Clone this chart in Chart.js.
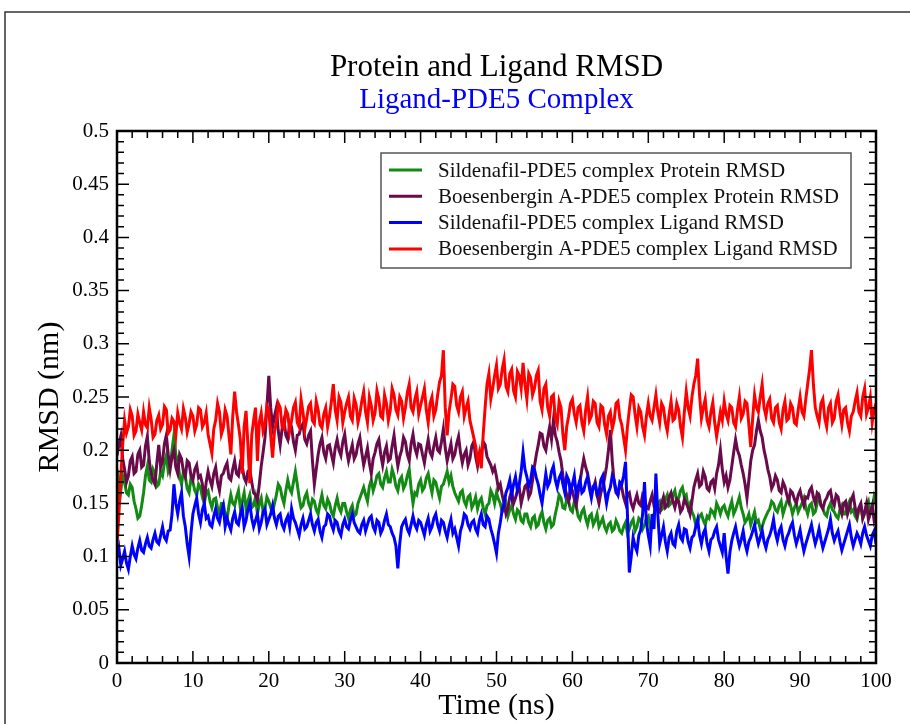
<!DOCTYPE html>
<html>
<head>
<meta charset="utf-8">
<title>Protein and Ligand RMSD</title>
<script src="https://cdn.jsdelivr.net/npm/chart.js@4.4.1/dist/chart.umd.min.js"></script>
<style>
  html, body { margin: 0; padding: 0; background: #fff; }
  canvas { display: block; }
</style>
</head>
<body>
<canvas id="rmsd" width="910" height="724"></canvas>
<script>
// values, one every 0.25 ns from 0 to 100 ns (one row = 10 ns)
const sildenafilProtein = [
  0.150,0.172, 0.162,0.176, 0.170,0.160, 0.158,0.168, 0.165,0.152, 0.145,0.136, 0.138,0.148, 0.160,0.176, 0.185,0.172, 0.170,0.182, 0.178,0.166, 0.168,0.180, 0.176,0.188, 0.195,0.180, 0.185,0.200, 0.214,0.196, 0.190,0.176, 0.168,0.180, 0.175,0.164, 0.160,0.174,
  0.170,0.162, 0.158,0.168, 0.165,0.156, 0.150,0.160, 0.162,0.152, 0.146,0.154, 0.155,0.146, 0.140,0.150, 0.150,0.140, 0.135,0.148, 0.158,0.150, 0.148,0.156, 0.162,0.146, 0.152,0.160, 0.145,0.152, 0.158,0.146, 0.148,0.156, 0.140,0.150, 0.155,0.142, 0.146,0.156,
  0.152,0.146, 0.142,0.150, 0.158,0.168, 0.165,0.156, 0.150,0.162, 0.172,0.164, 0.160,0.170, 0.180,0.168, 0.155,0.146, 0.148,0.156, 0.160,0.150, 0.145,0.154, 0.152,0.144, 0.140,0.150, 0.158,0.148, 0.145,0.154, 0.150,0.142, 0.138,0.148, 0.155,0.146, 0.142,0.150,
  0.150,0.142, 0.136,0.144, 0.148,0.138, 0.140,0.150, 0.155,0.160, 0.165,0.158, 0.152,0.166, 0.172,0.162, 0.168,0.176, 0.178,0.168, 0.165,0.174, 0.180,0.170, 0.170,0.182, 0.176,0.166, 0.162,0.172, 0.175,0.164, 0.168,0.176, 0.182,0.164, 0.150,0.160, 0.158,0.168,
  0.172,0.162, 0.165,0.174, 0.178,0.168, 0.160,0.172, 0.170,0.162, 0.155,0.166, 0.168,0.174, 0.180,0.170, 0.176,0.166, 0.160,0.156, 0.152,0.160, 0.162,0.152, 0.148,0.156, 0.158,0.146, 0.150,0.156, 0.145,0.152, 0.155,0.146, 0.140,0.148, 0.150,0.162, 0.158,0.150,
  0.160,0.154, 0.150,0.142, 0.145,0.150, 0.138,0.144, 0.148,0.140, 0.135,0.144, 0.142,0.134, 0.132,0.140, 0.140,0.132, 0.128,0.136, 0.138,0.128, 0.130,0.138, 0.142,0.132, 0.126,0.134, 0.136,0.128, 0.130,0.140, 0.148,0.158, 0.155,0.146, 0.145,0.154, 0.152,0.144,
  0.142,0.152, 0.148,0.138, 0.135,0.142, 0.145,0.136, 0.130,0.138, 0.140,0.130, 0.134,0.140, 0.128,0.132, 0.136,0.128, 0.124,0.130, 0.132,0.124, 0.126,0.134, 0.130,0.124, 0.122,0.128, 0.132,0.122, 0.126,0.132, 0.135,0.124, 0.128,0.136, 0.134,0.126, 0.130,0.136,
  0.138,0.128, 0.132,0.140, 0.145,0.150, 0.152,0.144, 0.146,0.154, 0.158,0.148, 0.150,0.158, 0.162,0.152, 0.155,0.162, 0.165,0.156, 0.158,0.146, 0.150,0.142, 0.138,0.130, 0.132,0.138, 0.140,0.134, 0.130,0.138, 0.136,0.144, 0.142,0.138, 0.150,0.146, 0.140,0.146,
  0.148,0.142, 0.138,0.146, 0.152,0.140, 0.144,0.150, 0.156,0.146, 0.140,0.132, 0.135,0.140, 0.130,0.136, 0.142,0.132, 0.134,0.126, 0.128,0.134, 0.138,0.142, 0.145,0.152, 0.150,0.144, 0.142,0.148, 0.152,0.140, 0.146,0.152, 0.155,0.148, 0.140,0.146, 0.150,0.142,
  0.146,0.150, 0.155,0.146, 0.140,0.148, 0.150,0.140, 0.142,0.150, 0.156,0.148, 0.145,0.140, 0.138,0.146, 0.150,0.144, 0.142,0.138, 0.136,0.144, 0.148,0.140, 0.140,0.148, 0.152,0.142, 0.144,0.138, 0.135,0.144, 0.148,0.136, 0.140,0.148, 0.152,0.140, 0.145,0.156,
  0.150
];
const boesenberginProtein = [
  0.195,0.205, 0.213,0.192, 0.182,0.170, 0.176,0.190, 0.194,0.178, 0.180,0.196, 0.200,0.184, 0.186,0.204, 0.213,0.190, 0.178,0.172, 0.168,0.188, 0.205,0.184, 0.190,0.206, 0.214,0.196, 0.182,0.194, 0.200,0.184, 0.178,0.196, 0.192,0.180, 0.175,0.190, 0.188,0.176,
  0.172,0.182, 0.186,0.174, 0.176,0.168, 0.153,0.170, 0.180,0.172, 0.166,0.178, 0.184,0.170, 0.162,0.176, 0.178,0.184, 0.188,0.174, 0.172,0.182, 0.190,0.178, 0.176,0.188, 0.185,0.174, 0.170,0.180, 0.182,0.170, 0.160,0.158, 0.153,0.168, 0.185,0.198, 0.212,0.240,
  0.270,0.240, 0.222,0.232, 0.240,0.218, 0.205,0.220, 0.228,0.214, 0.210,0.226, 0.222,0.208, 0.200,0.214, 0.215,0.222, 0.225,0.210, 0.206,0.214, 0.218,0.190, 0.168,0.182, 0.196,0.206, 0.212,0.198, 0.192,0.204, 0.205,0.196, 0.188,0.202, 0.210,0.200, 0.195,0.208,
  0.215,0.200, 0.190,0.198, 0.205,0.192, 0.196,0.206, 0.212,0.198, 0.186,0.194, 0.202,0.188, 0.178,0.192, 0.198,0.206, 0.210,0.196, 0.186,0.198, 0.204,0.190, 0.192,0.204, 0.214,0.198, 0.185,0.194, 0.200,0.212, 0.208,0.196, 0.190,0.206, 0.215,0.202, 0.196,0.206,
  0.205,0.196, 0.188,0.200, 0.210,0.198, 0.194,0.204, 0.212,0.200, 0.198,0.208, 0.220,0.202, 0.190,0.198, 0.206,0.192, 0.196,0.206, 0.213,0.198, 0.188,0.196, 0.200,0.186, 0.192,0.204, 0.208,0.194, 0.185,0.196, 0.198,0.208, 0.205,0.194, 0.190,0.186, 0.180,0.184,
  0.175,0.164, 0.168,0.158, 0.150,0.140, 0.145,0.156, 0.162,0.150, 0.155,0.162, 0.165,0.150, 0.158,0.166, 0.168,0.156, 0.160,0.172, 0.185,0.196, 0.205,0.216, 0.215,0.204, 0.200,0.212, 0.222,0.210, 0.228,0.214, 0.208,0.198, 0.190,0.176, 0.165,0.158, 0.152,0.166,
  0.162,0.154, 0.148,0.160, 0.170,0.182, 0.192,0.184, 0.178,0.168, 0.160,0.164, 0.170,0.158, 0.150,0.160, 0.165,0.174, 0.185,0.200, 0.219,0.190, 0.170,0.160, 0.158,0.168, 0.165,0.156, 0.150,0.158, 0.160,0.150, 0.145,0.152, 0.158,0.150, 0.148,0.158, 0.155,0.146,
  0.145,0.152, 0.158,0.148, 0.150,0.144, 0.142,0.150, 0.156,0.146, 0.148,0.156, 0.160,0.152, 0.146,0.154, 0.152,0.142, 0.145,0.154, 0.150,0.146, 0.140,0.152, 0.165,0.172, 0.178,0.166, 0.168,0.180, 0.175,0.164, 0.162,0.170, 0.172,0.164, 0.178,0.186, 0.200,0.182,
  0.170,0.176, 0.165,0.172, 0.185,0.198, 0.210,0.200, 0.195,0.186, 0.178,0.168, 0.155,0.172, 0.190,0.200, 0.205,0.218, 0.228,0.218, 0.212,0.200, 0.192,0.182, 0.175,0.164, 0.168,0.176, 0.172,0.162, 0.160,0.170, 0.166,0.158, 0.152,0.162, 0.160,0.154, 0.150,0.158,
  0.162,0.154, 0.148,0.156, 0.155,0.162, 0.165,0.156, 0.150,0.160, 0.158,0.148, 0.145,0.152, 0.155,0.160, 0.162,0.152, 0.148,0.158, 0.156,0.146, 0.140,0.150, 0.152,0.140, 0.146,0.154, 0.158,0.146, 0.138,0.146, 0.150,0.136, 0.142,0.150, 0.135,0.142, 0.148,0.134,
  0.140
];
const sildenafilLigand = [
  0.100,0.108, 0.092,0.098, 0.105,0.094, 0.088,0.100, 0.110,0.102, 0.098,0.108, 0.115,0.106, 0.104,0.112, 0.118,0.110, 0.108,0.116, 0.122,0.114, 0.112,0.120, 0.128,0.118, 0.115,0.124, 0.125,0.140, 0.168,0.150, 0.140,0.152, 0.160,0.138, 0.128,0.112, 0.100,0.122,
  0.140,0.148, 0.155,0.140, 0.132,0.144, 0.150,0.136, 0.138,0.130, 0.128,0.138, 0.145,0.136, 0.132,0.142, 0.148,0.128, 0.136,0.130, 0.125,0.136, 0.142,0.132, 0.130,0.140, 0.146,0.128, 0.134,0.144, 0.150,0.136, 0.128,0.134, 0.140,0.126, 0.132,0.142, 0.145,0.130,
  0.135,0.140, 0.148,0.136, 0.130,0.138, 0.140,0.130, 0.126,0.134, 0.138,0.128, 0.145,0.136, 0.132,0.126, 0.120,0.130, 0.136,0.126, 0.128,0.134, 0.140,0.130, 0.124,0.132, 0.135,0.124, 0.118,0.128, 0.130,0.140, 0.138,0.130, 0.125,0.134, 0.132,0.124, 0.120,0.130,
  0.135,0.128, 0.126,0.134, 0.140,0.132, 0.128,0.124, 0.122,0.130, 0.134,0.124, 0.130,0.136, 0.138,0.128, 0.124,0.134, 0.132,0.122, 0.126,0.134, 0.140,0.130, 0.128,0.122, 0.118,0.110, 0.089,0.112, 0.128,0.132, 0.135,0.126, 0.122,0.130, 0.138,0.130, 0.126,0.134,
  0.132,0.126, 0.120,0.130, 0.136,0.124, 0.128,0.136, 0.140,0.130, 0.124,0.134, 0.132,0.124, 0.118,0.128, 0.135,0.122, 0.126,0.118, 0.110,0.124, 0.130,0.140, 0.138,0.130, 0.126,0.132, 0.134,0.126, 0.122,0.134, 0.140,0.130, 0.128,0.138, 0.135,0.126, 0.120,0.112,
  0.103,0.122, 0.132,0.144, 0.150,0.160, 0.165,0.172, 0.158,0.168, 0.175,0.162, 0.168,0.180, 0.198,0.182, 0.175,0.166, 0.172,0.184, 0.182,0.174, 0.168,0.158, 0.150,0.164, 0.178,0.166, 0.170,0.180, 0.185,0.172, 0.165,0.174, 0.178,0.168, 0.160,0.176, 0.172,0.160,
  0.168,0.176, 0.158,0.166, 0.172,0.160, 0.162,0.170, 0.175,0.164, 0.155,0.166, 0.168,0.158, 0.160,0.172, 0.176,0.162, 0.150,0.160, 0.165,0.176, 0.172,0.162, 0.158,0.170, 0.168,0.176, 0.189,0.140, 0.085,0.100, 0.118,0.110, 0.105,0.120, 0.125,0.140, 0.170,0.132,
  0.120,0.110, 0.140,0.126, 0.178,0.140, 0.112,0.120, 0.128,0.114, 0.105,0.118, 0.122,0.112, 0.110,0.124, 0.130,0.118, 0.115,0.126, 0.125,0.114, 0.108,0.118, 0.120,0.128, 0.135,0.120, 0.112,0.122, 0.126,0.112, 0.105,0.116, 0.118,0.124, 0.128,0.116, 0.110,0.104,
  0.122,0.100, 0.084,0.104, 0.115,0.122, 0.128,0.118, 0.110,0.116, 0.124,0.112, 0.105,0.114, 0.118,0.124, 0.130,0.120, 0.112,0.118, 0.125,0.114, 0.108,0.116, 0.120,0.126, 0.135,0.122, 0.115,0.124, 0.128,0.116, 0.110,0.118, 0.122,0.128, 0.132,0.120, 0.112,0.118,
  0.125,0.114, 0.105,0.112, 0.118,0.124, 0.130,0.120, 0.112,0.118, 0.126,0.116, 0.108,0.114, 0.120,0.126, 0.135,0.122, 0.115,0.120, 0.124,0.114, 0.106,0.112, 0.118,0.124, 0.130,0.118, 0.110,0.116, 0.122,0.118, 0.112,0.122, 0.128,0.120, 0.115,0.110, 0.120,0.124,
  0.112
];
const boesenberginLigand = [
  0.110,0.140, 0.175,0.205, 0.228,0.216, 0.222,0.238, 0.232,0.214, 0.218,0.234, 0.226,0.219, 0.236,0.224, 0.221,0.240, 0.229,0.212, 0.215,0.228, 0.233,0.220, 0.224,0.241, 0.238,0.216, 0.219,0.230, 0.227,0.214, 0.235,0.226, 0.220,0.239, 0.231,0.217, 0.225,0.236,
  0.232,0.218, 0.224,0.240, 0.238,0.222, 0.226,0.235, 0.215,0.206, 0.197,0.220, 0.228,0.244, 0.236,0.215, 0.221,0.238, 0.232,0.214, 0.196,0.232, 0.255,0.236, 0.224,0.210, 0.178,0.222, 0.237,0.205, 0.169,0.214, 0.228,0.240, 0.190,0.226, 0.235,0.218, 0.224,0.242,
  0.238,0.214, 0.193,0.218, 0.226,0.244, 0.240,0.222, 0.220,0.238, 0.234,0.218, 0.228,0.240, 0.245,0.226, 0.222,0.248, 0.236,0.220, 0.230,0.241, 0.244,0.228, 0.225,0.246, 0.238,0.224, 0.221,0.234, 0.240,0.222, 0.232,0.246, 0.262,0.238, 0.228,0.250, 0.245,0.226,
  0.236,0.244, 0.250,0.232, 0.228,0.249, 0.243,0.226, 0.234,0.246, 0.255,0.236, 0.226,0.250, 0.242,0.228, 0.235,0.256, 0.248,0.232, 0.230,0.252, 0.244,0.228, 0.237,0.258, 0.252,0.238, 0.233,0.250, 0.246,0.230, 0.240,0.254, 0.262,0.240, 0.236,0.248, 0.255,0.234,
  0.242,0.250, 0.258,0.238, 0.226,0.244, 0.250,0.232, 0.238,0.252, 0.264,0.270, 0.294,0.240, 0.214,0.236, 0.248,0.262, 0.260,0.242, 0.236,0.250, 0.255,0.232, 0.240,0.246, 0.228,0.220, 0.212,0.204, 0.190,0.198, 0.183,0.215, 0.240,0.262, 0.272,0.248, 0.258,0.270,
  0.280,0.258, 0.262,0.276, 0.285,0.260, 0.255,0.272, 0.276,0.256, 0.250,0.274, 0.270,0.258, 0.282,0.262, 0.248,0.272, 0.268,0.252, 0.258,0.270, 0.275,0.246, 0.238,0.258, 0.262,0.240, 0.232,0.250, 0.252,0.230, 0.224,0.246, 0.240,0.215, 0.200,0.222, 0.232,0.244,
  0.248,0.234, 0.226,0.240, 0.242,0.226, 0.218,0.238, 0.250,0.228, 0.232,0.246, 0.244,0.226, 0.222,0.242, 0.240,0.224, 0.215,0.232, 0.236,0.220, 0.228,0.244, 0.246,0.230, 0.224,0.212, 0.200,0.222, 0.238,0.252, 0.250,0.234, 0.222,0.240, 0.236,0.222, 0.214,0.232,
  0.244,0.232, 0.228,0.240, 0.252,0.236, 0.226,0.244, 0.240,0.226, 0.218,0.234, 0.246,0.228, 0.230,0.244, 0.238,0.222, 0.212,0.236, 0.255,0.240, 0.232,0.250, 0.262,0.270, 0.286,0.252, 0.230,0.240, 0.248,0.228, 0.222,0.236, 0.245,0.226, 0.213,0.224, 0.236,0.228,
  0.246,0.234, 0.228,0.242, 0.240,0.226, 0.222,0.238, 0.250,0.230, 0.234,0.246, 0.244,0.224, 0.203,0.230, 0.252,0.240, 0.236,0.250, 0.262,0.240, 0.232,0.244, 0.248,0.230, 0.226,0.240, 0.242,0.226, 0.220,0.238, 0.246,0.228, 0.230,0.244, 0.240,0.226, 0.224,0.238,
  0.250,0.236, 0.232,0.248, 0.262,0.276, 0.294,0.262, 0.240,0.232, 0.226,0.244, 0.248,0.230, 0.222,0.240, 0.244,0.226, 0.230,0.246, 0.252,0.236, 0.224,0.238, 0.240,0.226, 0.218,0.232, 0.236,0.246, 0.254,0.236, 0.232,0.250, 0.258,0.234, 0.240,0.250, 0.226,0.238,
  0.244
];
const seriesLabels = [
  'Sildenafil-PDE5 complex Protein RMSD',
  'Boesenbergin A-PDE5 complex Protein RMSD',
  'Sildenafil-PDE5 complex Ligand RMSD',
  'Boesenbergin A-PDE5 complex Ligand RMSD'
];
const seriesColors = ['#138a13', '#690a4a', '#0000ff', '#ff0000'];
const timeStep = 0.25; // ns between samples
const xTickLabels = [0, 10, 20, 30, 40, 50, 60, 70, 80, 90, 100];
const yTickLabels = [0, 0.05, 0.1, 0.15, 0.2, 0.25, 0.3, 0.35, 0.4, 0.45, 0.5];

const serif = '"Liberation Serif", "DejaVu Serif", serif';

const toPoints = (vals) => vals.map((v, i) => ({ x: i * timeStep, y: v }));
const allSeries = [sildenafilProtein, boesenberginProtein, sildenafilLigand, boesenberginLigand];

// grace-style frame, inward ticks, titles and boxed legend
const graceDecor = {
  id: 'graceDecor',
  afterDraw(chart) {
    const { ctx, chartArea: a, scales } = chart;
    const xs = scales.x, ys = scales.y;
    ctx.save();

    // page border
    ctx.strokeStyle = '#333';
    ctx.lineWidth = 1.5;
    ctx.beginPath();
    ctx.moveTo(5, 724);
    ctx.lineTo(5, 12);
    ctx.lineTo(910, 12);
    ctx.stroke();

    // ticks
    ctx.strokeStyle = '#000';
    ctx.lineWidth = 1.5;
    ctx.beginPath();
    for (let k = 0; k <= 50; k++) {
      const px = xs.getPixelForValue(k * 2);
      const len = k % 5 === 0 ? 12 : 7;
      ctx.moveTo(px, a.bottom); ctx.lineTo(px, a.bottom - len);
      ctx.moveTo(px, a.top); ctx.lineTo(px, a.top + len);
    }
    for (let k = 0; k <= 50; k++) {
      const py = ys.getPixelForValue(k / 100);
      const len = k % 5 === 0 ? 12 : 7;
      ctx.moveTo(a.left, py); ctx.lineTo(a.left + len, py);
      ctx.moveTo(a.right, py); ctx.lineTo(a.right - len, py);
    }
    ctx.stroke();

    // frame
    ctx.lineWidth = 2.5;
    ctx.strokeRect(a.left, a.top, a.right - a.left, a.bottom - a.top);

    // titles
    const cx = (a.left + a.right) / 2;
    ctx.textAlign = 'center';
    ctx.textBaseline = 'middle';
    ctx.fillStyle = '#000';
    ctx.font = '31px ' + serif;
    ctx.fillText('Protein and Ligand RMSD', cx, 68);
    ctx.fillStyle = '#0000ff';
    ctx.font = '29px ' + serif;
    ctx.fillText('Ligand-PDE5 Complex', cx, 100);

    ctx.fillStyle = '#000';
    ctx.font = '30px ' + serif;
    ctx.fillText('Time (ns)', cx, 706);
    ctx.save();
    ctx.translate(50, (a.top + a.bottom) / 2);
    ctx.rotate(-Math.PI / 2);
    ctx.fillText('RMSD (nm)', 0, 0);
    ctx.restore();

    // legend
    const lx = 381, ly = 153, lw = 470, lh = 115;
    ctx.fillStyle = '#fff';
    ctx.fillRect(lx, ly, lw, lh);
    ctx.strokeStyle = '#555';
    ctx.lineWidth = 1.5;
    ctx.strokeRect(lx, ly, lw, lh);
    ctx.textAlign = 'left';
    ctx.font = '21px ' + serif;
    chart.data.datasets.forEach((ds, i) => {
      const ry = 170 + i * 26.3;
      ctx.strokeStyle = ds.borderColor;
      ctx.lineWidth = 3;
      ctx.beginPath();
      ctx.moveTo(389, ry);
      ctx.lineTo(422, ry);
      ctx.stroke();
      ctx.fillStyle = '#111';
      ctx.fillText(ds.label, 438, ry + 1);
    });
    ctx.restore();
  }
};

new Chart(document.getElementById('rmsd'), {
  type: 'line',
  data: {
    datasets: allSeries.map((vals, i) => ({
      label: seriesLabels[i],
      data: toPoints(vals),
      borderColor: seriesColors[i],
      borderWidth: 3,
      pointRadius: 0,
      tension: 0,
      order: 4 - i
    }))
  },
  options: {
    responsive: false,
    animation: false,
    devicePixelRatio: 1,
    layout: { padding: { left: 0, top: 131, right: 34, bottom: 0 } },
    plugins: {
      legend: { display: false },
      title: { display: false },
      tooltip: { enabled: false }
    },
    scales: {
      x: {
        type: 'linear',
        min: 0,
        max: 100,
        afterFit: (s) => { s.height = 61; },
        afterBuildTicks: (s) => { s.ticks = xTickLabels.map((v) => ({ value: v })); },
        grid: { display: false },
        border: { display: false },
        ticks: {
          autoSkip: false,
          maxRotation: 0,
          padding: -2,
          color: '#000',
          font: { family: serif, size: 21 }
        }
      },
      y: {
        min: 0,
        max: 0.5,
        afterFit: (s) => { s.width = 117; },
        afterBuildTicks: (s) => { s.ticks = yTickLabels.map((v) => ({ value: v })); },
        grid: { display: false },
        border: { display: false },
        ticks: {
          padding: 0,
          color: '#000',
          font: { family: serif, size: 21 },
          callback: (v) => String(v)
        }
      }
    }
  },
  plugins: [graceDecor]
});
</script>
</body>
</html>
